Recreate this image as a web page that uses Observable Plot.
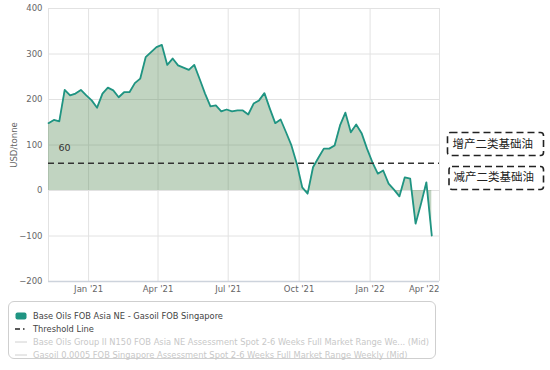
<!DOCTYPE html>
<html>
<head>
<meta charset="utf-8">
<script src="https://cdn.jsdelivr.net/npm/d3@7"></script>
<script src="https://cdn.jsdelivr.net/npm/@observablehq/plot@0.6"></script>
<style>
  body { margin: 0; background: #fff; font-family: "DejaVu Sans", sans-serif; }
  #wrap { position: relative; width: 550px; height: 370px; }
  #legend { position: absolute; left: 8px; top: 301px; width: 428px; height: 58px; border: 1px solid #cfcfcf; border-radius: 6px; box-sizing: border-box; }
  .row { position: absolute; left: 6px; height: 13px; display: flex; align-items: center; font-size: 8.3px; white-space: nowrap; }
  .row span.t { margin-left: 6px; }
  #ann { position: absolute; left: 0; top: 0; }
</style>
</head>
<body>
<div id="wrap">
  <div id="chart"></div>
  <div id="legend"></div>
  <svg id="ann" width="550" height="370"></svg>
</div>
<script>
const dates = [
  "2020-11-10","2020-11-17","2020-11-24","2020-12-01","2020-12-08","2020-12-15","2020-12-22","2020-12-29",
  "2021-01-05","2021-01-12","2021-01-19","2021-01-26","2021-02-02","2021-02-09","2021-02-16","2021-02-23",
  "2021-03-02","2021-03-09","2021-03-16","2021-03-23","2021-03-30","2021-04-06","2021-04-13","2021-04-20",
  "2021-04-27","2021-05-04","2021-05-11","2021-05-18","2021-05-25","2021-06-01","2021-06-08","2021-06-15",
  "2021-06-22","2021-06-29","2021-07-06","2021-07-13","2021-07-20","2021-07-27","2021-08-03","2021-08-10",
  "2021-08-17","2021-08-24","2021-08-31","2021-09-07","2021-09-14","2021-09-21","2021-09-28","2021-10-05",
  "2021-10-12","2021-10-19","2021-10-26","2021-11-02","2021-11-09","2021-11-16","2021-11-23","2021-11-30",
  "2021-12-07","2021-12-14","2021-12-21","2021-12-28","2022-01-04","2022-01-11","2022-01-18","2022-01-25",
  "2022-02-01","2022-02-08","2022-02-15","2022-02-22","2022-03-01","2022-03-08","2022-03-15","2022-03-22"
];
const spread = [
  148,155,152,221,209,213,221,209,
  198,182,213,226,220,205,216,216,
  236,246,293,304,315,320,276,290,
  275,270,265,276,245,213,185,187,
  174,178,174,176,176,167,191,198,
  214,180,148,156,128,99,59,7,
  -7,51,72,92,92,99,143,171,
  128,145,126,92,62,37,44,15,
  2,-13,29,26,-73,-29,18,-99
];
const threshold = 60;
const yTicks = [-200, -100, 0, 100, 200, 300, 400];
const xTickDates = ["2021-01-01","2021-04-01","2021-07-01","2021-10-01","2022-01-01","2022-04-01"];
const xDomain = ["2020-11-10", "2022-04-01"];
const yLabel = "USD/tonne";
const seriesName = "Base Oils FOB Asia NE - Gasoil FOB Singapore";
const thresholdName = "Threshold Line";
const hiddenSeries = [
  "Base Oils Group II N150 FOB Asia NE Assessment Spot 2-6 Weeks Full Market Range We... (Mid)",
  "Gasoil 0.0005 FOB Singapore Assessment Spot 2-6 Weeks Full Market Range Weekly (Mid)"
];
const annotations = ["增产二类基础油", "减产二类基础油"];

const data = dates.map((d, i) => ({date: new Date(d), value: spread[i]}));
const xTicks = xTickDates.map(d => new Date(d));
const fmt = d3.utcFormat("%b '%y");
const lineColor = "#1f9482";

const chart = Plot.plot({
  width: 550, height: 298,
  marginTop: 8, marginBottom: 17, marginLeft: 48, marginRight: 111,
  style: {fontFamily: "DejaVu Sans", fontSize: "8.5px", color: "#666", background: "white", overflow: "visible"},
  x: {type: "utc", domain: xDomain.map(d => new Date(d))},
  y: {domain: [-200, 400]},
  marks: [
    Plot.gridY(yTicks, {stroke: "#e2e2e2", strokeOpacity: 1}),
    Plot.gridX(xTicks, {stroke: "#e2e2e2", strokeOpacity: 1}),
    Plot.ruleX([new Date(xDomain[0])], {stroke: "#e2e2e2"}),
    Plot.areaY(data, {x: "date", y: "value", fill: "#4e844e", fillOpacity: 0.35}),
    Plot.lineY(data, {x: "date", y: "value", stroke: lineColor, strokeWidth: 1.8}),
    Plot.ruleY([threshold], {stroke: "#333", strokeDasharray: "6,4", strokeWidth: 1.5}),
    Plot.text([threshold], {x: () => new Date(xDomain[0]), y: d => d, text: d => String(d), dx: 10, dy: -15, textAnchor: "start", fill: "#333", fontSize: 9.5}),
    Plot.ruleY([-200], {stroke: "#cdd3dc", strokeWidth: 1.5}),
    Plot.axisY(yTicks, {tickSize: 0, tickPadding: 6, label: yLabel, labelAnchor: "center", labelArrow: "none", labelOffset: 38}),
    Plot.axisX(xTicks.slice(0, -1), {tickSize: 0, tickPadding: 4, tickFormat: fmt, label: null}),
    Plot.text(xTicks.slice(-1), {x: d => d, y: () => -200, text: d => fmt(d), textAnchor: "end", dy: 8, fill: "#666", lineAnchor: "middle"})
  ]
});
document.getElementById("chart").appendChild(chart);

// Legend
const legend = document.getElementById("legend");
const rows = [
  {sw: `<svg width="12" height="8"><rect x="0.5" y="0.5" width="11" height="7" rx="2" fill="${lineColor}"/></svg>`, text: seriesName, color: "#444"},
  {sw: `<svg width="12" height="8"><line x1="0" x2="5" y1="4" y2="4" stroke="#222" stroke-width="1.5"/><line x1="8" x2="9.5" y1="4" y2="4" stroke="#222" stroke-width="1.5"/></svg>`, text: thresholdName, color: "#444"},
  {sw: `<svg width="12" height="8"><line x1="0" x2="12" y1="4" y2="4" stroke="#d0d0d0" stroke-width="1"/></svg>`, text: hiddenSeries[0], color: "#c8c8c8"},
  {sw: `<svg width="12" height="8"><line x1="0" x2="12" y1="4" y2="4" stroke="#d0d0d0" stroke-width="1"/></svg>`, text: hiddenSeries[1], color: "#c8c8c8"}
];
rows.forEach((r, i) => {
  const div = document.createElement("div");
  div.className = "row";
  div.style.top = (7 + i * 13.3) + "px";
  div.innerHTML = r.sw + `<span class="t" style="color:${r.color}">${r.text}</span>`;
  legend.appendChild(div);
});

// Annotation boxes
const ann = d3.select("#ann");
const boxes = [
  {x: 447.5, y: 132.5, w: 96, h: 23, tx: 452.5, ty: 144.5},
  {x: 449, y: 166.5, w: 94.5, h: 23, tx: 453.5, ty: 178}
];
boxes.forEach((b, i) => {
  ann.append("rect").attr("x", b.x).attr("y", b.y).attr("width", b.w).attr("height", b.h)
    .attr("rx", 3).attr("fill", "none").attr("stroke", "#222").attr("stroke-width", 1.6)
    .attr("stroke-dasharray", "7,4");
  ann.append("text").attr("x", b.tx).attr("y", b.ty).attr("dominant-baseline", "middle")
    .attr("font-family", "Noto Sans CJK SC").attr("font-size", 11.5).attr("fill", "#222")
    .text(annotations[i]);
});
</script>
</body>
</html>
